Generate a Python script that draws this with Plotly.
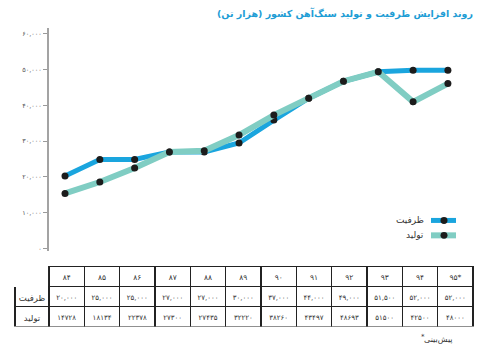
import plotly.graph_objects as go

W, H = 479, 352

# ---- data ----
years = [84, 85, 86, 87, 88, 89, 90, 91, 92, 93, 94, 95]
year_labels = ["84", "85", "86", "87", "88", "89", "90", "91", "92", "93", "94", "95*"]
# values as drawn on the chart
capacity_plot = [20300, 24900, 24900, 27000, 27000, 29500, 35900, 42000, 46750, 49400, 49800, 49800]
production_plot = [15400, 18600, 22500, 27000, 27300, 31700, 37300, 42000, 46750, 49400, 41000, 46100]
# values printed in the table
capacity_table = [20000, 25000, 25000, 27000, 27000, 30000, 37000, 44000, 49000, 51500, 52000, 52000]
production_table = [14728, 18134, 22378, 27300, 27435, 32220, 38260, 43497, 48693, 51500, 42500, 48000]
y_ticks = [0, 10000, 20000, 30000, 40000, 50000, 60000]

title = "روند افزایش ظرفیت و تولید سنگ‌آهن کشور (هزار تن)\u200f"
name_cap = "ظرفیت"
name_prod = "تولید"
footnote = "پیش‌بینی"

FA = str.maketrans("0123456789", "۰۱۲۳۴۵۶۷۸۹")
def fa(s):
    return str(s).translate(FA)

def px_x(x):
    return x / W
def px_y(y):
    return (H - y) / H

FONT = "DejaVu Sans"
C_CAP = "#1aa5de"
C_PROD = "#80cdc3"
C_DOT = "#1c1c1c"

xi = list(range(len(years)))

fig = go.Figure()
fig.add_trace(go.Scatter(x=xi, y=capacity_plot, mode="lines+markers", name=name_cap,
                         line=dict(color=C_CAP, width=5),
                         marker=dict(color=C_DOT, size=7), showlegend=False))
fig.add_trace(go.Scatter(x=xi, y=production_plot, mode="lines+markers", name=name_prod,
                         line=dict(color=C_PROD, width=6),
                         marker=dict(color=C_DOT, size=7), showlegend=False))

# table
header_vals = [""] + [fa(y) for y in year_labels]
cap_strs = [fa(f"{v:,}") for v in capacity_table]
prod_strs = [fa(str(v)) for v in production_table]
cells_vals = [[name_cap, name_prod]] + [[c, p] for c, p in zip(cap_strs, prod_strs)]

fig.add_trace(go.Table(
    domain=dict(x=[px_x(15), px_x(473)], y=[px_y(329), px_y(268)]),
    columnwidth=[34] + [35.3] * 12,
    header=dict(values=header_vals, height=20, align="center",
                line=dict(color=["white"] + ["#222222"] * 12, width=1.5),
                fill=dict(color="white"),
                font=dict(family=FONT, size=7.5, color="#333333")),
    cells=dict(values=cells_vals, height=20, align="center",
               line=dict(color="#222222", width=1.5),
               fill=dict(color="white"),
               font=dict(family=FONT, size=[8.5] + [7] * 12, color="#333333")),
))

shapes = []
annotations = []
# manual legend (right-to-left: label on the left of the symbol)
for yy, col, wid, nm in [(221.7, C_CAP, 5, name_cap), (236.7, C_PROD, 6, name_prod)]:
    shapes.append(dict(type="line", xref="paper", yref="paper",
                       x0=px_x(431), x1=px_x(456), y0=px_y(yy), y1=px_y(yy),
                       line=dict(color=col, width=wid)))
    shapes.append(dict(type="circle", xref="paper", yref="paper",
                       x0=px_x(440.5), x1=px_x(447.5), y0=px_y(yy + 3.5), y1=px_y(yy - 3.5),
                       fillcolor=C_DOT, line=dict(width=0)))
    annotations.append(dict(text=nm, xref="paper", yref="paper", x=px_x(426), y=px_y(yy),
                            xanchor="right", yanchor="middle", showarrow=False,
                            font=dict(family=FONT, size=9, color="#333333")))

annotations.append(dict(text=title, xref="paper", yref="paper", x=px_x(475), y=px_y(14),
                        xanchor="right", yanchor="middle", showarrow=False,
                        font=dict(family=FONT, size=9.5, color="#1e9dd5", weight="bold")))
annotations.append(dict(text=footnote, xref="paper", yref="paper", x=px_x(455), y=px_y(341),
                        xanchor="right", yanchor="middle", showarrow=False,
                        font=dict(family=FONT, size=8, color="#333333")))
annotations.append(dict(text="*", xref="paper", yref="paper", x=px_x(427), y=px_y(339),
                        xanchor="right", yanchor="middle", showarrow=False,
                        font=dict(family=FONT, size=7, color="#333333")))

fig.update_layout(
    width=W, height=H,
    margin=dict(l=0, r=0, t=0, b=0),
    paper_bgcolor="white", plot_bgcolor="white",
    showlegend=False,
    xaxis=dict(visible=False, domain=[px_x(49), px_x(466)], range=[-0.46, 11.52]),
    yaxis=dict(domain=[px_y(252.5), px_y(28.6)], range=[-700, 61500],
               tickvals=y_ticks, ticktext=[fa(f"{v:,}") for v in y_ticks],
               ticks="outside", ticklen=4, tickcolor="#9a9a9a", tickwidth=1,
               showline=True, linecolor="#a3a3a3", linewidth=2,
               showgrid=False, zeroline=False,
               tickfont=dict(family=FONT, size=6.5, color="#555555")),
    shapes=shapes, annotations=annotations,
)

fig.write_html("out.html")
